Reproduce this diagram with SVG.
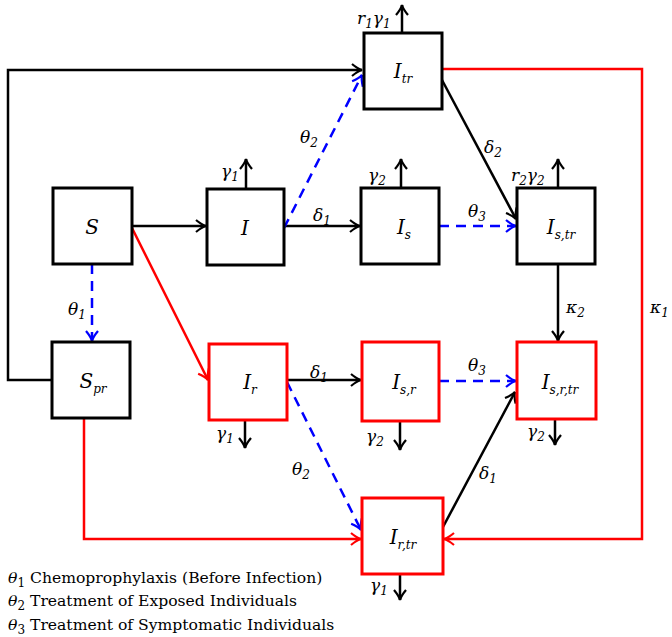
<svg xmlns="http://www.w3.org/2000/svg" width="672" height="637" viewBox="0 0 672 637">
<style>
.box{fill:#fff;stroke-width:3}
.blk{stroke:#000}
.red{stroke:#ff0000}
.ln{fill:none;stroke-width:2.5}
.dash{stroke-dasharray:10,7}
.blue{stroke:#0000ff}
text{font-family:'DejaVu Serif','Liberation Serif',serif;font-style:italic;fill:#000}
.nl{font-size:20px;text-anchor:middle}
.lb{font-size:17px}
.sub{font-size:12px}
.lg{font-size:15.6px;font-style:normal}
.m{font-style:italic}
</style>
<defs>
<marker id="ak" markerUnits="userSpaceOnUse" viewBox="-12 -8 14 16" markerWidth="14" markerHeight="16" refX="0" refY="0" orient="auto"><path d="M-10,-6 Q-4,-1 0,0 Q-4,1 -10,6" fill="none" stroke="#000" stroke-width="2.2"/></marker>
<marker id="ab" markerUnits="userSpaceOnUse" viewBox="-12 -8 14 16" markerWidth="14" markerHeight="16" refX="0" refY="0" orient="auto"><path d="M-10,-6 Q-4,-1 0,0 Q-4,1 -10,6" fill="none" stroke="#0000ff" stroke-width="2.2"/></marker>
<marker id="ar" markerUnits="userSpaceOnUse" viewBox="-12 -8 14 16" markerWidth="14" markerHeight="16" refX="0" refY="0" orient="auto"><path d="M-10,-6 Q-4,-1 0,0 Q-4,1 -10,6" fill="none" stroke="#ff0000" stroke-width="2.2"/></marker>
</defs>

<g id="connectors">
<polyline class="ln blk" points="52,380 8,380 8,70 362,70" marker-end="url(#ak)"/>
<line class="ln blk" x1="132" y1="226" x2="206" y2="226" marker-end="url(#ak)"/>
<line class="ln blk" x1="284" y1="226" x2="360" y2="226" marker-end="url(#ak)"/>
<line class="ln blk" x1="442" y1="80" x2="516" y2="219" marker-end="url(#ak)"/>
<line class="ln blk" x1="558" y1="264" x2="558" y2="341" marker-end="url(#ak)"/>
<line class="ln blk" x1="287" y1="380" x2="361" y2="380" marker-end="url(#ak)"/>
<line class="ln blk" x1="443" y1="527" x2="515" y2="392" marker-end="url(#ak)"/>
<line class="ln blk" x1="402" y1="33" x2="402" y2="5" marker-end="url(#ak)"/>
<line class="ln blk" x1="246" y1="189" x2="246" y2="159" marker-end="url(#ak)"/>
<line class="ln blk" x1="401" y1="188" x2="401" y2="159" marker-end="url(#ak)"/>
<line class="ln blk" x1="558" y1="188" x2="558" y2="159" marker-end="url(#ak)"/>
<line class="ln blk" x1="245" y1="421" x2="245" y2="448" marker-end="url(#ak)"/>
<line class="ln blk" x1="400" y1="421" x2="400" y2="450" marker-end="url(#ak)"/>
<line class="ln blk" x1="555" y1="419" x2="555" y2="445" marker-end="url(#ak)"/>
<line class="ln blk" x1="400" y1="574" x2="400" y2="600" marker-end="url(#ak)"/>
<line class="ln blue dash" x1="284" y1="228" x2="362" y2="75" marker-end="url(#ab)"/>
<line class="ln blue dash" x1="439" y1="226" x2="516" y2="226" marker-end="url(#ab)"/>
<line class="ln blue dash" x1="92" y1="264" x2="92" y2="341" marker-end="url(#ab)"/>
<line class="ln blue dash" x1="287" y1="382" x2="361" y2="530" marker-end="url(#ab)"/>
<line class="ln blue dash" x1="439" y1="381" x2="516" y2="381" marker-end="url(#ab)"/>
<line class="ln red" x1="132" y1="228" x2="208" y2="380" marker-end="url(#ar)"/>
<polyline class="ln red" points="84,418 84,539 361,539" marker-end="url(#ar)"/>
<polyline class="ln red" points="442,69 642,69 642,539 444,539" marker-end="url(#ar)"/>
<text class="lb" x="357" y="24">r<tspan class="sub" dy="4">1</tspan><tspan dy="-4">γ</tspan><tspan class="sub" dy="4">1</tspan></text>
<text class="lb" x="221" y="177">γ<tspan class="sub" dy="4">1</tspan></text>
<text class="lb" x="368" y="181">γ<tspan class="sub" dy="4">2</tspan></text>
<text class="lb" x="511" y="181">r<tspan class="sub" dy="4">2</tspan><tspan dy="-4">γ</tspan><tspan class="sub" dy="4">2</tspan></text>
<text class="lb" x="300" y="143">θ<tspan class="sub" dy="4">2</tspan></text>
<text class="lb" x="313" y="221">δ<tspan class="sub" dy="4">1</tspan></text>
<text class="lb" x="468" y="217">θ<tspan class="sub" dy="4">3</tspan></text>
<text class="lb" x="484" y="153">δ<tspan class="sub" dy="4">2</tspan></text>
<text class="lb" x="566" y="313">κ<tspan class="sub" dy="4">2</tspan></text>
<text class="lb" x="650" y="313">κ<tspan class="sub" dy="4">1</tspan></text>
<text class="lb" x="68" y="315">θ<tspan class="sub" dy="4">1</tspan></text>
<text class="lb" x="310" y="378">δ<tspan class="sub" dy="4">1</tspan></text>
<text class="lb" x="468" y="371">θ<tspan class="sub" dy="4">3</tspan></text>
<text class="lb" x="292" y="475">θ<tspan class="sub" dy="4">2</tspan></text>
<text class="lb" x="479" y="479">δ<tspan class="sub" dy="4">1</tspan></text>
<text class="lb" x="216" y="439">γ<tspan class="sub" dy="4">1</tspan></text>
<text class="lb" x="366" y="442">γ<tspan class="sub" dy="4">2</tspan></text>
<text class="lb" x="527" y="437">γ<tspan class="sub" dy="4">2</tspan></text>
<text class="lb" x="370" y="591">γ<tspan class="sub" dy="4">1</tspan></text>
</g>

<g id="n-Itr"><rect class="box blk" x="364" y="33" width="78" height="76"/><text class="nl" x="403" y="78">I<tspan class="sub" dy="5">tr</tspan></text></g>
<g id="n-S"><rect class="box blk" x="53" y="188" width="79" height="76"/><text class="nl" x="92" y="234">S</text></g>
<g id="n-I"><rect class="box blk" x="207" y="189" width="77" height="76"/><text class="nl" x="245" y="235">I</text></g>
<g id="n-Is"><rect class="box blk" x="361" y="188" width="78" height="76"/><text class="nl" x="404" y="234">I<tspan class="sub" dy="5">s</tspan></text></g>
<g id="n-Istr"><rect class="box blk" x="517" y="188" width="78" height="76"/><text class="nl" x="561" y="234">I<tspan class="sub" dy="5">s,tr</tspan></text></g>
<g id="n-Spr"><rect class="box blk" x="52" y="342" width="78" height="76"/><text class="nl" x="93" y="388">S<tspan class="sub" dy="5">pr</tspan></text></g>
<g id="n-Ir"><rect class="box red" x="209" y="344" width="78" height="76"/><text class="nl" x="250" y="389">I<tspan class="sub" dy="5">r</tspan></text></g>
<g id="n-Isr"><rect class="box red" x="362" y="342" width="77" height="79"/><text class="nl" x="404" y="389">I<tspan class="sub" dy="5">s,r</tspan></text></g>
<g id="n-Isrtr"><rect class="box red" x="517" y="342" width="79" height="77"/><text class="nl" x="560" y="389">I<tspan class="sub" dy="5">s,r,tr</tspan></text></g>
<g id="n-Irtr"><rect class="box red" x="362" y="498" width="81" height="76"/><text class="nl" x="403" y="544">I<tspan class="sub" dy="5">r,tr</tspan></text></g>

<g id="legend">
<text class="lg" x="8" y="583"><tspan class="m">θ</tspan><tspan class="sub" dy="4">1</tspan><tspan dy="-4"> Chemoprophylaxis (Before Infection)</tspan></text>
<text class="lg" x="8" y="606"><tspan class="m">θ</tspan><tspan class="sub" dy="4">2</tspan><tspan dy="-4"> Treatment of Exposed Individuals</tspan></text>
<text class="lg" x="8" y="630"><tspan class="m">θ</tspan><tspan class="sub" dy="4">3</tspan><tspan dy="-4"> Treatment of Symptomatic Individuals</tspan></text>
</g>
</svg>
